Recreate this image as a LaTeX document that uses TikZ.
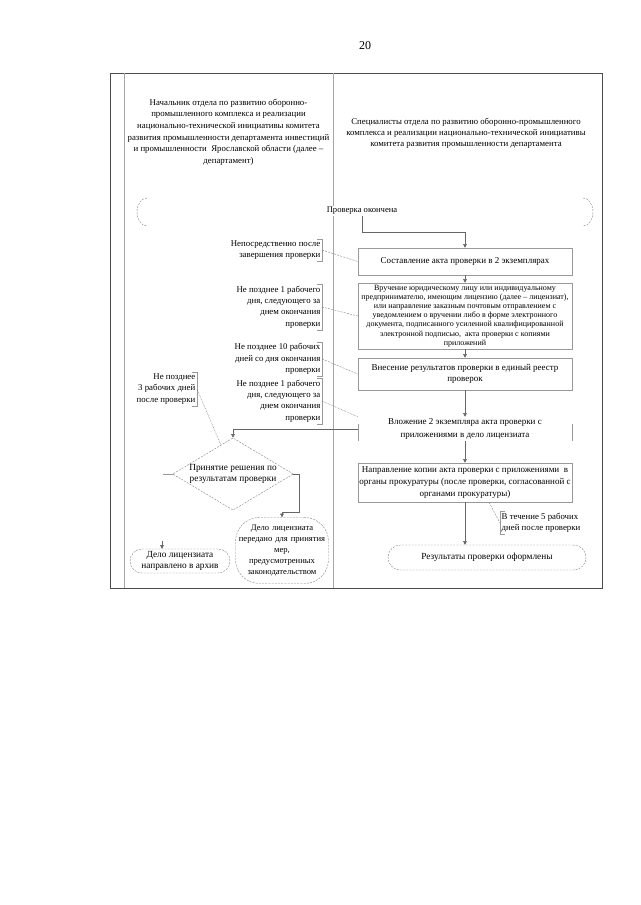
\documentclass[tikz,border=0pt]{standalone}
\usepackage{fontspec}
\setmainfont{Liberation Serif}
\usetikzlibrary{arrows.meta,shapes.geometric,calc}

\tikzset{
  proc/.style={draw=gray!80, line width=0.5pt, minimum width=214pt, inner sep=1pt, align=center, font=\fontsize{9}{11.5}\selectfont},
  note/.style={inner sep=1.5pt, font=\fontsize{8.8}{11.4}\selectfont},
  flow/.style={draw=gray!80!black, line width=0.5pt, -{Triangle[width=3.6pt,length=3.6pt]}},
  hint/.style={draw=gray, line width=0.4pt, dash pattern=on 2pt off 1.2pt},
  dots/.style={draw=gray, line width=0.4pt, dash pattern=on 0.8pt off 0.8pt},
  term/.style={draw=gray, line width=0.4pt, dash pattern=on 2pt off 1.2pt, align=center, font=\fontsize{9.3}{10.5}\selectfont}
}
\newcommand\closebr[1]{\draw[gray!80] ([xshift=-5pt]#1.north east) -- (#1.north east) -- (#1.south east) -- ([xshift=-5pt]#1.south east);}
\newcommand\openbr[1]{\draw[gray!80] ([xshift=5pt]#1.north west) -- (#1.north west) -- (#1.south west) -- ([xshift=5pt]#1.south west);}

\begin{document}
\begin{tikzpicture}[x=1pt,y=-1pt]
\useasboundingbox (0,0) rectangle (640,905);
\node (pnum) at (365,46) {\fontsize{12}{14}\selectfont 20};
\draw[gray!60!black, line width=0.8pt] (110,73) rectangle (602,588);
\draw[gray!70] (124,73) -- (124,588);
\draw[gray!70] (333,73) -- (333,588);
\node[align=center, font=\fontsize{8.8}{11.6}\selectfont] (hdl) at (228.5,132) {Начальник отдела по развитию оборонно-\\промышленного комплекса и реализации\\национально-технической инициативы комитета\\развития промышленности департамента инвестиций\\и промышленности \ Ярославской области (далее --\\департамент)};
\node[align=center, font=\fontsize{8.8}{11.2}\selectfont] (hdr) at (466,133) {Специалисты отдела по развитию оборонно-промышленного\\комплекса и реализации национально-технической инициативы\\комитета развития промышленности департамента};

\node[fill=white, inner sep=1pt, font=\fontsize{8.6}{9}\selectfont] (start) at (362,211) {Проверка окончена};
\draw[term] (147,198) arc[start angle=270, end angle=90, x radius=10, y radius=14];
\draw[term] (583,198) arc[start angle=270, end angle=450, x radius=10, y radius=14];

\node[proc, minimum height=27pt] (box1) at (465,261.5) {Составление акта проверки в 2 экземплярах};
\node[proc, minimum height=66pt, font=\fontsize{8}{9.2}\selectfont] (box2) at (465,316) {Вручение юридическому лицу или индивидуальному\\предпринимателю, имеющим лицензию (далее -- лицензиат),\\или направление заказным почтовым отправлением с\\уведомлением о вручении либо в форме электронного\\документа, подписанного усиленной квалифицированной\\электронной подписью, \ акта проверки с копиями\\приложений};
\node[proc, minimum height=32pt] (box3) at (465,374) {Внесение результатов проверки в единый реестр\\проверок};
\node[proc, draw=none, minimum height=24pt, font=\fontsize{9}{12.5}\selectfont] (box4) at (465,429) {Вложение 2 экземпляра акта проверки с\\приложениями в дело лицензиата};
\draw[gray!80] ([yshift=17pt]box4.south west) -- (box4.south west);
\draw[gray!80] ([yshift=17pt]box4.south east) -- (box4.south east);
\node[proc, minimum height=39pt, font=\fontsize{9}{11.8}\selectfont] (box5) at (465,482.5) {Направление копии акта проверки с приложениями \ в\\органы прокуратуры (после проверки, согласованной с\\органами прокуратуры)};
\node[term, minimum width=198pt, minimum height=25pt, rounded corners=12.5pt] (endt) at (487,557.5) {Результаты проверки оформлены};

\node[note, anchor=east, align=right] (n1) at (322,250) {Непосредственно после\\завершения проверки};
\closebr{n1}
\node[note, anchor=east, align=right] (n2) at (322,307) {Не позднее 1 рабочего\\дня, следующего за\\днем окончания\\проверки};
\closebr{n2}
\node[note, anchor=east, align=right] (n3) at (322,359) {Не позднее 10 рабочих\\дней со дня окончания\\проверки};
\closebr{n3}
\node[note, anchor=east, align=right] (n4) at (322,401) {Не позднее 1 рабочего\\дня, следующего за\\днем окончания\\проверки};
\closebr{n4}
\node[note, anchor=east, align=right] (n5) at (197,389) {Не позднее\\3 рабочих дней\\после проверки};
\closebr{n5}
\node[note, anchor=west, align=left] (n6) at (500,523) {В течение 5 рабочих\\дней после проверки};
\openbr{n6}

\node[draw=gray, dash pattern=on 2pt off 1.2pt, diamond, aspect=1.67, minimum width=120pt, minimum height=72pt, inner sep=0pt, align=center, font=\fontsize{9.3}{11.8}\selectfont] (dec) at (233,474) {Принятие решения по\\результатам проверки};
\node[term, minimum width=92pt, minimum height=66pt, rounded corners=24pt, text width=92pt, inner sep=0.5pt, font=\fontsize{8.6}{10.8}\selectfont] (law) at (282,550.5) {Дело лицензиата\\передано для принятия\\мер,\\предусмотренных\\законодательством};
\node[term, minimum width=100pt, minimum height=24pt, rounded corners=12pt, inner sep=1pt] (arch) at (180,561) {Дело лицензиата\\направлено в архив};

\draw[flow] (start.south) |- ([yshift=16pt]box1.north) -- (box1.north);
\draw[flow] (box1) -- (box2);
\draw[flow] (box2) -- (box3);
\draw[flow] (box3) -- (box4);
\draw[flow] (box4) -- (box5);
\draw[flow] (box5.south) -- (box5.south |- endt.north);
\draw[flow] (box4.west) -| (dec.north);
\draw[gray!80] (dec.west) -- ++(-10,0);
\coordinate (archin) at (162,541);
\draw[flow] (archin) -- (archin |- arch.north);
\draw[flow] (dec.east) -- ++(6,0) |- ([yshift=5pt]law.north) -- (law.north);
\draw[hint] (n1.east) -- (box1.west);
\draw[hint] (n2.east) -- (box2.west);
\draw[hint] (n3.east) -- (box3.west);
\draw[dots] (n4.east) -- (box4.north west);
\draw[dots] (n5.east) -- ($(dec.north)!0.2!(dec.west)$);
\draw[hint] ([xshift=24pt]box5.south) -- (n6.west);
\end{tikzpicture}
\end{document}
